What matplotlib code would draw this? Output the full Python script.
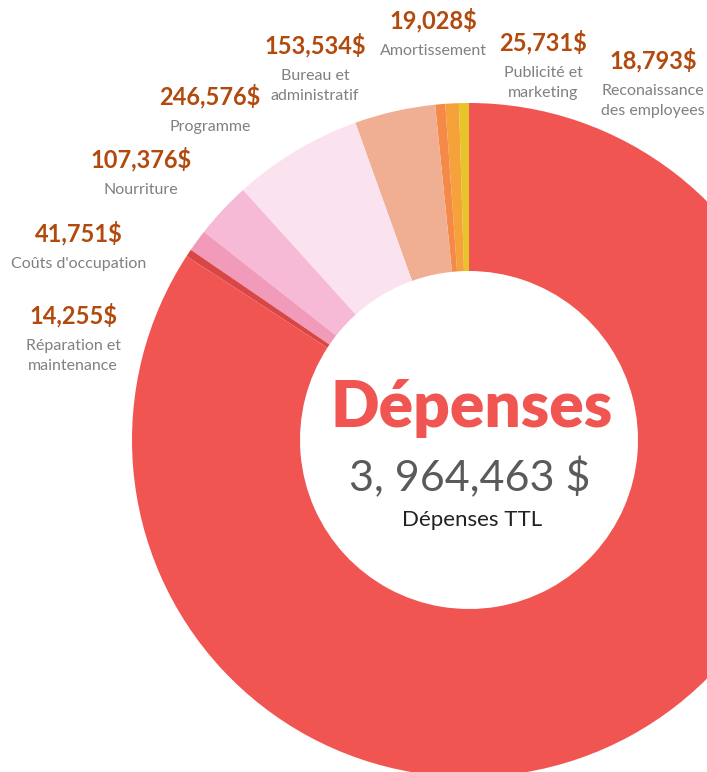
import matplotlib
matplotlib.use("Agg")
import matplotlib.pyplot as plt

# Data (counter-clockwise from 12 o'clock)
categories = ["Reconaissance\ndes employees", "Publicité et\nmarketing", "Amortissement",
              "Bureau et\nadministratif", "Programme", "Nourriture",
              "Coûts d'occupation", "Réparation et\nmaintenance", "Autres"]
values = [18793, 25731, 19028, 153534, 246576, 107376, 41751, 14255, 3337419]
total = 3964463
colors = ["#E8C42B", "#F5A23A", "#F58A48", "#F0AE92", "#FAE3EE", "#F6BAD6",
          "#F19ABA", "#D84646", "#F05552"]

# label positions in pixel coords (x, y from top)
label_pos = [(653, 60), (543, 42), (433, 20), (315, 45), (210, 96), (141, 159),
             (79, 233), (73, 315)]

W, H = 707, 772
fig = plt.figure(figsize=(W / 100, H / 100), dpi=100)
ax = fig.add_axes([0, 0, 1, 1])

cx, cy, R, r = 469, H - 440, 337, 169
ax.pie(values, colors=colors, startangle=90, counterclock=True,
       center=(cx, cy), radius=R, wedgeprops=dict(width=R - r, linewidth=0),
       frame=True)
ax.set_xlim(0, W)
ax.set_ylim(0, H)
ax.set_aspect("equal")
ax.axis("off")

val_color = "#B24A0E"
lab_color = "#808080"
font = "Lato"
for (px, py), cat, v in zip(label_pos, categories, values):
    ax.text(px, H - py, f"{v:,}$", ha="center", va="center", fontsize=17,
            fontweight="bold", color=val_color, family=font)
    ax.text(px, H - py - 24, cat, ha="center", va="top", fontsize=11.5,
            color=lab_color, family=font, linespacing=1.55)

ax.text(cx + 3, H - 408, "Dépenses", ha="center", va="center", fontsize=46,
        fontweight="heavy", color="#F05552", family=font)
ax.text(cx + 1, H - 478, "3, 964,463 $", ha="center", va="center", fontsize=31,
        color="#5A5A5A", family=font)
ax.text(cx + 3, H - 520, "Dépenses TTL", ha="center", va="center", fontsize=16,
        color="#222222", family=font)

fig.savefig("out.png", dpi=100)
